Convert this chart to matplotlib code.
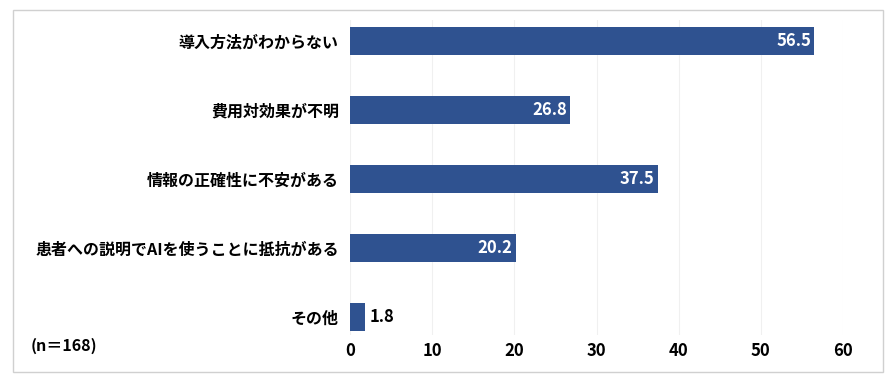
import numpy as np
import matplotlib.pyplot as plt
from matplotlib.patches import Rectangle

plt.rcParams['font.family'] = ['Noto Sans CJK JP', 'DejaVu Sans']

# data
categories = ['導入方法がわからない', '費用対効果が不明', '情報の正確性に不安がある',
              '患者への説明でAIを使うことに抵抗がある', 'その他']
values = [56.5, 26.8, 37.5, 20.2, 1.8]
xticks = [0, 10, 20, 30, 40, 50, 60]
note = '(n＝168)'

bar_color = '#2F5290'

fig = plt.figure(figsize=(8.94, 3.8), dpi=100)
W, H = 894, 380

# outer frame
fig.patches.append(Rectangle((13 / W, 1 - 372 / H), 870 / W, 362 / H,
                             transform=fig.transFigure, fill=False,
                             edgecolor='#D0D0D0', linewidth=1.0))

ax = fig.add_axes([350 / W, 1 - 335 / H, (843 - 350) / W, (335 - 20) / H])

y = np.arange(len(categories))
ax.barh(y, values, height=0.41, color=bar_color, zorder=3)

ax.set_xlim(0, 60)
ax.set_ylim(4.26, -0.304)
ax.set_xticks(xticks)
ax.set_xticklabels([str(t) for t in xticks], fontsize=12, fontweight='bold')
ax.set_yticks(y)
ax.set_yticklabels(categories, fontsize=11.5, fontweight='bold')
ax.tick_params(axis='both', length=0)
ax.tick_params(axis='x', pad=5)
ax.tick_params(axis='y', pad=8)

ax.grid(axis='x', color='#F0F0F0', linewidth=0.8, zorder=0)
for s in ax.spines.values():
    s.set_visible(False)

for i, v in enumerate(values):
    if v > 10:
        ax.text(v - 0.4, i, f'{v:.1f}', color='white', ha='right', va='center',
                fontsize=12, fontweight='bold', zorder=4)
    else:
        ax.text(v + 0.6, i, f'{v:.1f}', color='black', ha='left', va='center',
                fontsize=12, fontweight='bold', zorder=4)

fig.text(31 / W, 1 - 346 / H, note, fontsize=11.5, fontweight='bold',
         ha='left', va='center')

fig.savefig('out.png', dpi=100)
